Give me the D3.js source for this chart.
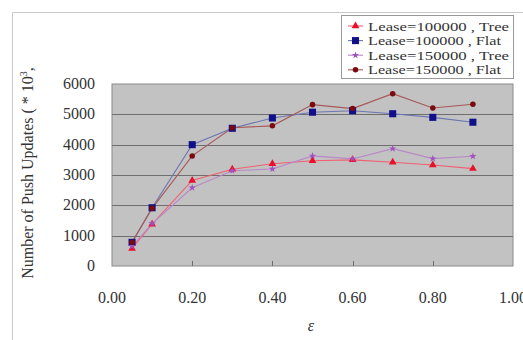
<!DOCTYPE html>
<html>
<head>
  <style type="text/css">
    body { margin: 0; background: #fff; }
    svg { display: block; }
  </style>
</head>
<body>
<div id="chart"></div>
<script src="https://d3js.org/d3.v7.min.js"></script>
<script type="text/javascript">
var eps = [0.05, 0.1, 0.2, 0.3, 0.4, 0.5, 0.6, 0.7, 0.8, 0.9];
var tree100 = [580, 1380, 2820, 3190, 3370, 3470, 3500, 3420, 3330, 3210];
var flat100 = [780, 1920, 4000, 4540, 4880, 5070, 5120, 5020, 4900, 4740];
var tree150 = [650, 1400, 2580, 3140, 3200, 3630, 3530, 3870, 3540, 3620];
var flat150 = [780, 1900, 3630, 4560, 4620, 5320, 5190, 5680, 5210, 5330];
var seriesNames = ["Lease=100000 , Tree", "Lease=100000 , Flat", "Lease=150000 , Tree", "Lease=150000 , Flat"];
var xTicks = [0, 0.2, 0.4, 0.6, 0.8, 1.0];
var yTicks = [0, 1000, 2000, 3000, 4000, 5000, 6000];

var W = 523, H = 340;
var font = "'Liberation Serif', 'DejaVu Serif', serif";

var series = [
  {name: seriesNames[0], values: tree100, line: "#f06070", fill: "#e8102a", shape: d3.symbolTriangle, size: 26, tl: 141},
  {name: seriesNames[1], values: flat100, line: "#6a76b0", fill: "#10108a", shape: d3.symbolSquare, size: 50, tl: 133},
  {name: seriesNames[2], values: tree150, line: "#b888c8", fill: "#a050c0", shape: d3.symbolStar, size: 16, tl: 141},
  {name: seriesNames[3], values: flat150, line: "#a85858", fill: "#780a10", shape: d3.symbolCircle, size: 24, tl: 133}
];

var svg = d3.select("#chart").append("svg")
  .attr("width", W).attr("height", H);

// outer chart frame (runs off the page on the right/bottom)
svg.append("path")
  .attr("d", "M12.5," + H + "V12.5H" + W)
  .attr("fill", "none").attr("stroke", "#c8c8c8");

var x = d3.scaleLinear().domain([0, 1]).range([112, 513]);
var y = d3.scaleLinear().domain([0, 6000]).range([266, 84]);

// plot area
svg.append("rect")
  .attr("x", x(0)).attr("y", y(6000))
  .attr("width", x(1) - x(0)).attr("height", y(0) - y(6000))
  .attr("fill", "#c2c2c2").attr("stroke", "#8a8a8a");

svg.append("g").selectAll("line")
  .data(yTicks.filter(d => d > 0 && d < 6000))
  .join("line")
  .attr("x1", x(0)).attr("x2", x(1))
  .attr("y1", d => Math.round(y(d)) + 0.5).attr("y2", d => Math.round(y(d)) + 0.5)
  .attr("stroke", "#6e6e6e");

// x ticks inside bottom
svg.append("g").selectAll("line")
  .data(xTicks.filter(d => d > 0 && d < 1))
  .join("line")
  .attr("x1", d => Math.round(x(d)) + 0.5).attr("x2", d => Math.round(x(d)) + 0.5)
  .attr("y1", y(0)).attr("y2", y(0) - 5)
  .attr("stroke", "#6e6e6e");

// tick labels
svg.append("g").selectAll("text")
  .data(yTicks).join("text")
  .attr("x", 95).attr("y", d => y(d) + 5)
  .attr("text-anchor", "end")
  .attr("font-family", font).attr("font-size", 16).attr("fill", "#333")
  .text(d => d);

svg.append("g").selectAll("text")
  .data(xTicks).join("text")
  .attr("x", d => x(d)).attr("y", 303)
  .attr("text-anchor", "middle")
  .attr("font-family", font).attr("font-size", 16).attr("fill", "#333")
  .text(d => d3.format(".2f")(d));

svg.append("text")
  .attr("x", 311).attr("y", 331)
  .attr("text-anchor", "middle")
  .attr("font-family", font).attr("font-style", "italic").attr("font-size", 16).attr("fill", "#333")
  .text("ε");

var yt = svg.append("text")
  .attr("transform", "translate(33,173) rotate(-90)")
  .attr("text-anchor", "middle")
  .attr("font-family", font).attr("font-size", 16).attr("fill", "#333");
yt.append("tspan").text("Number of Push Updates ( * 10");
yt.append("tspan").attr("dy", -6).attr("font-size", 10).text("3");
yt.append("tspan").attr("dy", 6).text(",");

// lines and markers
var line = d3.line().x((d, i) => x(eps[i])).y(d => y(d));
series.forEach(function(s) {
  svg.append("path")
    .datum(s.values)
    .attr("d", line)
    .attr("fill", "none").attr("stroke", s.line).attr("stroke-width", 1.1);
});
series.forEach(function(s) {
  svg.append("g").selectAll("path")
    .data(s.values).join("path")
    .attr("transform", (d, i) => "translate(" + x(eps[i]) + "," + y(d) + ")")
    .attr("d", d3.symbol().type(s.shape).size(s.size))
    .attr("fill", s.fill);
});

// legend
var lg = svg.append("g");
lg.append("rect")
  .attr("x", 341.5).attr("y", 15.5).attr("width", 172).attr("height", 63)
  .attr("fill", "#fff").attr("stroke", "#9a9a9a");
series.forEach(function(s, i) {
  var cy = 26 + i * 14.6;
  lg.append("line")
    .attr("x1", 348).attr("x2", 363).attr("y1", cy).attr("y2", cy)
    .attr("stroke", s.line).attr("stroke-width", 1.1);
  lg.append("path")
    .attr("transform", "translate(355.5," + cy + ")")
    .attr("d", d3.symbol().type(s.shape).size(s.size))
    .attr("fill", s.fill);
  lg.append("text")
    .attr("x", 368).attr("y", cy + 4.5)
    .attr("font-family", font).attr("font-size", 13).attr("fill", "#333")
    .attr("textLength", s.tl).attr("lengthAdjust", "spacingAndGlyphs")
    .text(s.name);
});
</script>
</body>
</html>
